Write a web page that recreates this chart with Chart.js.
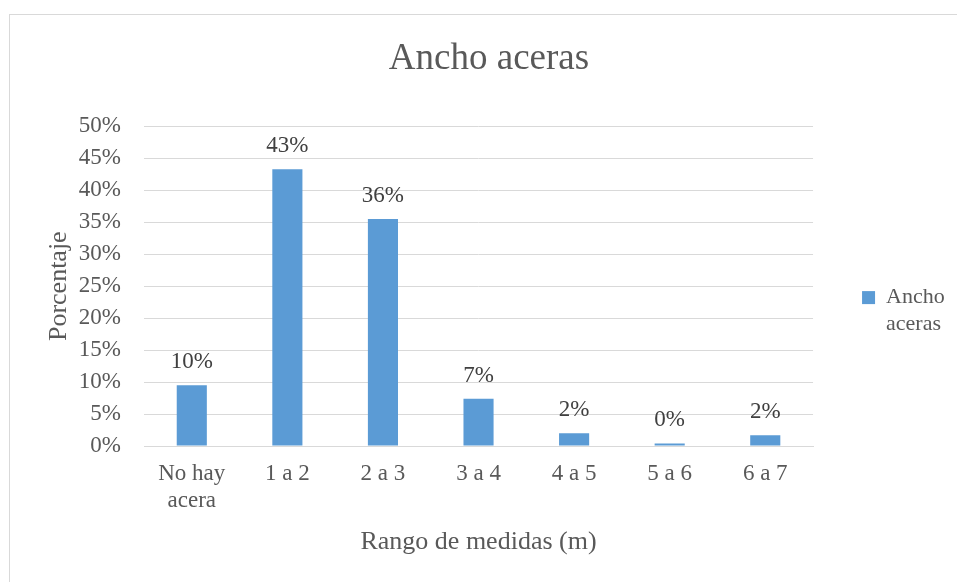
<!DOCTYPE html>
<html lang="es">
<head>
    <meta charset="UTF-8">
    <title>Ancho aceras</title>
    <script src="https://cdn.jsdelivr.net/npm/chart.js"></script>
    <style>
        html, body { margin: 0; padding: 0; background: #fff; overflow: hidden; width: 957px; height: 582px; }
        #marco { position: absolute; left: 9px; top: 14px; width: 961px; height: 568px; border: 1px solid #d9d9d9; }
    </style>
</head>
<body>
    <div id="marco">
        <canvas id="grafico"></canvas>
    </div>
    <script>
        // Datos del grafico
        const rangos = [['No hay', 'acera'], '1 a 2', '2 a 3', '3 a 4', '4 a 5', '5 a 6', '6 a 7'];
        const porcentajes = [9.5, 43.3, 35.5, 7.4, 2.0, 0.4, 1.7];
        const nombreSerie = 'Ancho aceras';
        const lineasLeyenda = ['Ancho', 'aceras'];

        const FUENTE = 'Liberation Serif, Times New Roman, serif';
        const GRIS = '#595959';

        // Etiquetas de valor encima de cada barra
        const etiquetasValor = {
            id: 'etiquetasValor',
            afterDatasetsDraw(chart) {
                const ctx = chart.ctx;
                const meta = chart.getDatasetMeta(0);
                ctx.save();
                ctx.font = '23px ' + FUENTE;
                ctx.fillStyle = '#404040';
                ctx.textAlign = 'center';
                ctx.textBaseline = 'alphabetic';
                meta.data.forEach((bar, i) => {
                    const v = chart.data.datasets[0].data[i];
                    ctx.fillText(Math.round(v) + '%', bar.x, bar.y - 17);
                });
                ctx.restore();
            }
        };

        const ctx = document.getElementById('grafico').getContext('2d');
        new Chart(ctx, {
            type: 'bar',
            data: {
                labels: rangos,
                datasets: [{
                    label: nombreSerie,
                    data: porcentajes,
                    backgroundColor: '#5b9bd5',
                    borderWidth: 0,
                    barPercentage: 0.63,
                    categoryPercentage: 0.5
                }]
            },
            plugins: [etiquetasValor],
            options: {
                responsive: true,
                maintainAspectRatio: false,
                animation: false,
                layout: { padding: { left: 17, right: 20, top: 0, bottom: 9 } },
                plugins: {
                    title: {
                        display: true,
                        text: 'Ancho aceras',
                        color: GRIS,
                        font: { family: FUENTE, size: 37, weight: 'normal' },
                        padding: { top: 22, bottom: 45 }
                    },
                    legend: {
                        position: 'right',
                        title: { display: true, text: '', font: { size: 12 }, padding: { top: 22.6, bottom: 0 } },
                        labels: {
                            color: GRIS,
                            font: { family: FUENTE, size: 22 },
                            boxWidth: 13,
                            boxHeight: 13,
                            padding: 49,
                            generateLabels(chart) {
                                const items = Chart.defaults.plugins.legend.labels.generateLabels(chart);
                                items.forEach(it => { it.text = lineasLeyenda; it.lineWidth = 0; });
                                return items;
                            }
                        }
                    },
                    tooltip: { enabled: false }
                },
                scales: {
                    x: {
                        grid: { display: false, drawTicks: false },
                        border: { display: true, color: '#d9d9d9' },
                        ticks: { color: GRIS, font: { family: FUENTE, size: 23 }, padding: 14, maxRotation: 0, autoSkip: false },
                        title: {
                            display: true,
                            text: 'Rango de medidas (m)',
                            color: GRIS,
                            font: { family: FUENTE, size: 26 },
                            padding: { top: 0, bottom: 16 }
                        },
                        afterFit(scale) { scale.height = 128; }
                    },
                    y: {
                        min: 0,
                        max: 50,
                        grid: { color: '#d9d9d9', drawTicks: false },
                        border: { display: false },
                        ticks: {
                            stepSize: 5,
                            color: GRIS,
                            font: { family: FUENTE, size: 23 },
                            padding: 23,
                            callback: v => v + '%'
                        },
                        title: {
                            display: true,
                            text: 'Porcentaje',
                            color: GRIS,
                            font: { family: FUENTE, size: 26 },
                            padding: { top: 16.4, bottom: 0 }
                        },
                        afterFit(scale) { scale.width = 117; }
                    }
                }
            }
        });
    </script>
</body>
</html>
